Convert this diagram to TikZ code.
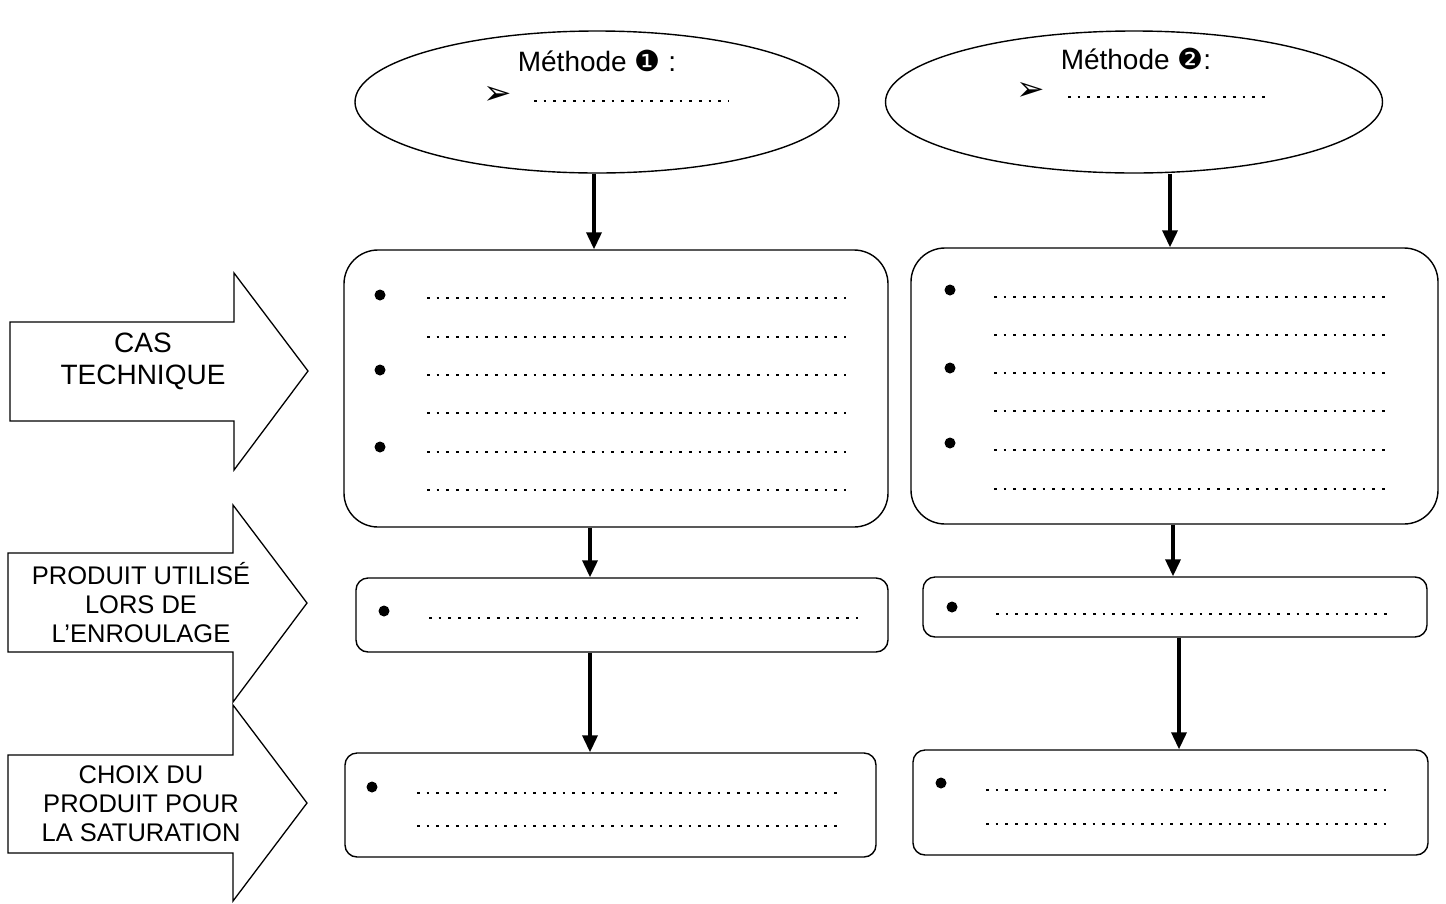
\documentclass[tikz,border=0pt]{standalone}
\usepackage{fontspec}
\setmainfont{Liberation Sans}
\newfontfamily\symf{DejaVu Sans}
\usetikzlibrary{shapes.geometric,arrows.meta,calc}
\begin{document}
\begin{tikzpicture}[x=1pt,y=-1pt,
  outline/.style={draw=black,line width=1.4pt},
  oval/.style={outline,ellipse,inner sep=0pt},
  bigbox/.style={outline,rectangle,rounded corners=34pt,inner sep=0pt},
  smallbox/.style={outline,rectangle,rounded corners=12pt,inner sep=0pt},
  arr/.style={line width=3.5pt,-{Triangle[width=15pt,length=17pt]}},
  dotline/.style={line width=2.7pt,dash pattern=on 2.7pt off 7pt},
  bul/.style={circle,fill=black,inner sep=0pt,minimum size=11pt},
  lbl/.style={font=\fontsize{25.5}{29}\selectfont,align=center,inner sep=0pt},
  side/.style={outline,line width=1.3pt,fill=white},
  symb/.style={inner sep=0pt,font=\symf\fontsize{34}{36}\selectfont},
]
\useasboundingbox (0,0) rectangle (1446,903);

% ellipses
\node[oval,minimum width=484pt,minimum height=142pt] (e1) at (597,102) {};
\node[oval,minimum width=497pt,minimum height=142pt] (e2) at (1134,102) {};
\node[lbl,anchor=base,font=\fontsize{28}{32}\selectfont] (t1) at (597,71) {Méthode {\symf\fontsize{29}{30}\selectfont ❶} :};
\node[lbl,anchor=base,font=\fontsize{28}{32}\selectfont] (t2) at (1136,69) {Méthode {\symf\fontsize{29}{30}\selectfont ❷}:};
\node[symb] (s1) at (498,95) {➢};
\node[symb] (s2) at (1031,91) {➢};
\draw[dotline] (534,101) -- (729,101);
\draw[dotline] (1068,97) -- (1271,97);

% big boxes
\node[bigbox,minimum width=544pt,minimum height=277pt] (b1) at (616,388.5) {};
\node[bigbox,minimum width=527pt,minimum height=276pt] (b2) at (1174.5,386) {};
\foreach \y in {295,370,447} \node[bul] at (380,\y) {};
\foreach \y in {298,337,375,413,452,490} \draw[dotline] (427,\y) -- (846,\y);
\foreach \y in {290,368,443} \node[bul] at (950,\y) {};
\foreach \y in {297,335,373,411,450,489} \draw[dotline] (994,\y) -- (1388,\y);

% middle boxes
\node[smallbox,minimum width=532pt,minimum height=74pt] (m1) at (622,615) {};
\node[smallbox,minimum width=504pt,minimum height=60pt] (m2) at (1175,607) {};
\node[bul] at (384,611) {};
\draw[dotline] (429,618) -- (858,618);
\node[bul] at (952,607) {};
\draw[dotline] (996,614) -- (1389,614);

% bottom boxes
\node[smallbox,minimum width=531pt,minimum height=104pt] (c1) at (610.5,805) {};
\node[smallbox,minimum width=515pt,minimum height=105pt] (c2) at (1170.5,802.5) {};
\node[bul] at (372,787) {};
\draw[dotline] (417,793) -- (838,793);
\draw[dotline] (417,826) -- (838,826);
\node[bul] at (941,783) {};
\draw[dotline] (986,790) -- (1389,790);
\draw[dotline] (986,824) -- (1389,824);

% connectors
\draw[arr] (e1.south -| 594,0) -- (b1.north -| 594,0);
\draw[arr] (e2.south -| 1170,0) -- (b2.north -| 1170,0);
\draw[arr] (b1.south -| 590,0) -- (m1.north -| 590,0);
\draw[arr] (b2.south -| 1173,0) -- (m2.north -| 1173,0);
\draw[arr] (m1.south -| 590,0) -- (c1.north -| 590,0);
\draw[arr] (m2.south -| 1179,0) -- (c2.north -| 1179,0);

% side arrows
\draw[side] (10,322) -- (234,322) -- (234,273) -- (308,371) -- (234,470) -- (234,421) -- (10,421) -- cycle;
\draw[side] (8,553) -- (233,553) -- (233,505) -- (307,603) -- (233,702) -- (233,652) -- (8,652) -- cycle;
\draw[side] (8,755) -- (233,755) -- (233,705) -- (307,803) -- (233,901) -- (233,853) -- (8,853) -- cycle;
\node[lbl,font=\fontsize{28}{32}\selectfont] (a1) at (143,361) {CAS\\TECHNIQUE};
\node[lbl] (a2) at (141,603) {PRODUIT UTILISÉ\\LORS DE\\L’ENROULAGE};
\node[lbl] (a3) at (141,804) {CHOIX DU\\PRODUIT POUR\\LA SATURATION};
\end{tikzpicture}
\end{document}
